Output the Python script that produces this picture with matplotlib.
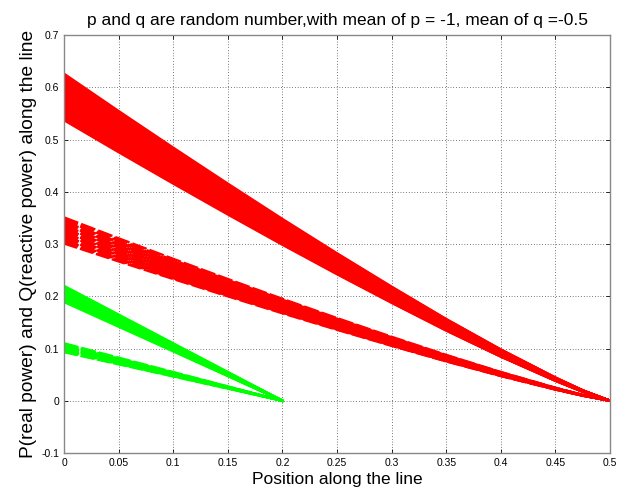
import matplotlib
matplotlib.use("Agg")
import matplotlib.pyplot as plt

# positions along the line
red_pos = [0, 0.05, 0.1, 0.15, 0.2, 0.25, 0.3, 0.35, 0.4, 0.45, 0.475, 0.5]
green_pos = [0, 0.2]

# share of the sending-end value left at each position
red_shape = [1.0, 0.886, 0.774, 0.664, 0.556, 0.451, 0.349, 0.25, 0.157, 0.071,
             0.032, 0.0]
green_shape = [1.0, 0.0]

# values at the sending end (position 0)
red_top_start = [0.537, 0.539, 0.541, 0.544, 0.546, 0.548, 0.550, 0.552, 0.554,
                 0.557, 0.559, 0.561, 0.563, 0.565, 0.567, 0.569, 0.571, 0.573,
                 0.575, 0.577, 0.579, 0.581, 0.583, 0.585, 0.587, 0.589, 0.591,
                 0.593, 0.595, 0.597, 0.599, 0.601, 0.603, 0.605, 0.607, 0.609,
                 0.611, 0.613, 0.615, 0.617, 0.619, 0.621, 0.623, 0.626]
red_low_start = [0.301, 0.303, 0.305, 0.307, 0.309, 0.311, 0.313, 0.315, 0.317,
                 0.319, 0.321, 0.323, 0.325, 0.327, 0.329, 0.331, 0.333, 0.335,
                 0.337, 0.339, 0.341, 0.343, 0.345, 0.348, 0.351]
green_top_start = [0.189, 0.191, 0.192, 0.194, 0.195, 0.197, 0.198, 0.200, 0.201,
                   0.203, 0.204, 0.206, 0.207, 0.209, 0.210, 0.212, 0.214, 0.216,
                   0.218, 0.220]
green_low_start = [0.093, 0.094, 0.096, 0.097, 0.098, 0.099, 0.100, 0.101, 0.102,
                   0.103, 0.104, 0.105, 0.106, 0.107, 0.108, 0.110]


def dashed(i, n):
    # dash lengths differ a little per line so the dashes blur further along
    return (0, (5.8 + 0.9 * ((i * 7) % n) / n, 1.3))


fig = plt.figure(figsize=(6.18, 4.94), dpi=100)
ax = fig.add_axes([0.1036, 0.083, 0.8835, 0.846])

for s in red_top_start:
    ax.plot(red_pos, [s * f for f in red_shape], color="#ff0000", lw=1.7)
for i, s in enumerate(red_low_start):
    ax.plot(red_pos, [s * f for f in red_shape], color="#ff0000", lw=1.7,
            linestyle=dashed(i, len(red_low_start)))
for s in green_top_start:
    ax.plot(green_pos, [s * f for f in green_shape], color="#00ff00", lw=1.7)
for i, s in enumerate(green_low_start):
    ax.plot(green_pos, [s * f for f in green_shape], color="#00ff00", lw=1.7,
            linestyle=dashed(i, len(green_low_start)))

ax.set_xlim(0, 0.5)
ax.set_ylim(-0.1, 0.7)
ax.set_xticks([0, 0.05, 0.1, 0.15, 0.2, 0.25, 0.3, 0.35, 0.4, 0.45, 0.5])
ax.set_xticklabels(["0", "0.05", "0.1", "0.15", "0.2", "0.25", "0.3", "0.35",
                    "0.4", "0.45", "0.5"])
ax.set_yticks([-0.1, 0, 0.1, 0.2, 0.3, 0.4, 0.5, 0.6, 0.7])
ax.set_yticklabels(["-0.1", "0", "0.1", "0.2", "0.3", "0.4", "0.5", "0.6", "0.7"])
ax.tick_params(direction="in", length=3, labelsize=7.5, width=0.6,
               top=True, right=True, labelfontfamily="Liberation Sans")
ax.grid(True, color="black", linestyle=(0, (1, 3)), linewidth=0.5)
for sp in ax.spines.values():
    sp.set_color("#888888")
    sp.set_linewidth(1.0)

ax.set_xlabel("Position along the line", fontsize=12.5, family="Liberation Sans",
              labelpad=3)
ax.set_ylabel("P(real power) and Q(reactive power) along the line", fontsize=13.8,
              family="Liberation Sans", labelpad=3)
ax.set_title("p and q are random number,with mean of p = -1, mean of q =-0.5",
             fontsize=12.5, family="Liberation Sans", pad=7)

fig.savefig("out.png", dpi=100)
